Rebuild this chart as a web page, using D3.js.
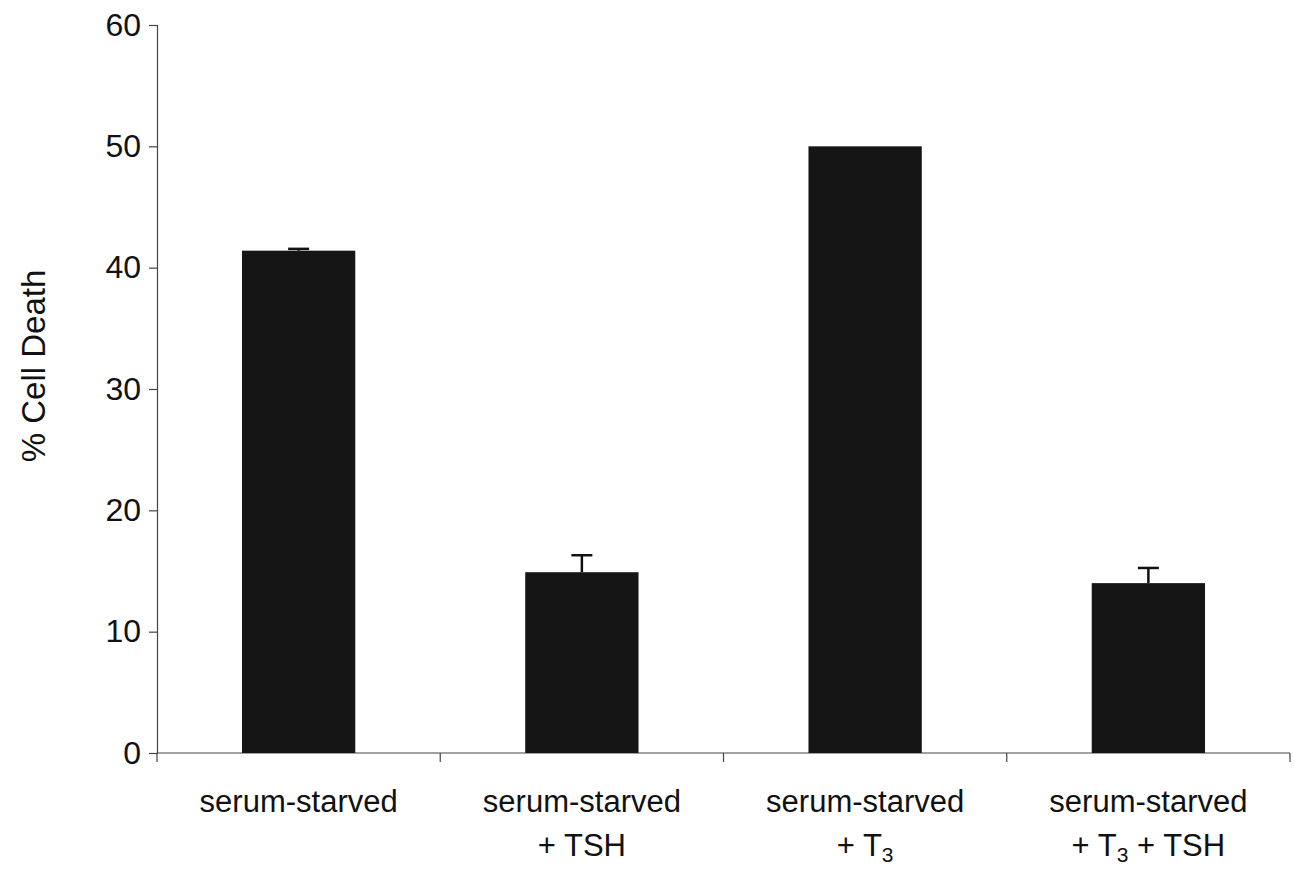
<!DOCTYPE html>
<html>
<head>
<meta charset="utf-8">
<script src="https://cdn.jsdelivr.net/npm/d3@7"></script>
<style>
  body { margin: 0; background: #fff; }
  text { font-family: "Liberation Sans", Arial, sans-serif; fill: #111; }
</style>
</head>
<body>
<div id="chart"></div>
<script>
var width = 1294, height = 869;

// data
var groups = ["g1", "g2", "g3", "g4"];
// label lines: each line is a list of [text, isSubscript]
var line1 = ["serum-starved", "serum-starved", "serum-starved", "serum-starved"];
var line2 = [
  [],
  [["+ TSH", false]],
  [["+ T", false], ["3", true]],
  [["+ T", false], ["3", true], [" + TSH", false]]
];
var means = [41.4, 14.9, 50.0, 14.0];
var errs = [0.15, 1.4, 0, 1.25];
var yTicks = [0, 10, 20, 30, 40, 50, 60];

var svg = d3.select("#chart")
  .append("svg")
  .attr("width", width)
  .attr("height", height);

var x = d3.scaleBand()
  .domain(groups)
  .range([157, 1290])
  .paddingInner(0.6)
  .paddingOuter(0.3);

var y = d3.scaleLinear()
  .domain([0, 60])
  .range([753, 25]);

// y axis
var yAxis = d3.axisLeft(y)
  .tickValues(yTicks)
  .tickSize(8)
  .tickPadding(8)
  .tickFormat(d3.format("d"));

var gy = svg.append("g")
  .attr("transform", "translate(157,0)")
  .call(yAxis);
gy.select(".domain").attr("stroke", "#444").attr("stroke-width", 1.2);
gy.selectAll(".tick line").attr("stroke", "#444").attr("stroke-width", 1.2);
gy.selectAll(".tick text")
  .style("font-size", "32px")
  .attr("fill", "#111");

// x axis line + boundary ticks
var boundaries = [0, 1, 2, 3, 4].map(function(i) {
  return x.range()[0] + i * (x.range()[1] - x.range()[0]) / 4;
});
svg.append("line")
  .attr("x1", 157).attr("x2", 1290)
  .attr("y1", y(0)).attr("y2", y(0))
  .attr("stroke", "#444").attr("stroke-width", 1.2);
svg.selectAll(".xtick")
  .data(boundaries)
  .enter().append("line")
  .attr("class", "xtick")
  .attr("x1", function(d) { return d; })
  .attr("x2", function(d) { return d; })
  .attr("y1", y(0))
  .attr("y2", y(0) + 9)
  .attr("stroke", "#444").attr("stroke-width", 1.2);

// bars
svg.selectAll(".bar")
  .data(groups)
  .enter().append("rect")
  .attr("class", "bar")
  .attr("x", function(d) { return x(d); })
  .attr("width", x.bandwidth())
  .attr("y", function(d, i) { return y(means[i]); })
  .attr("height", function(d, i) { return y(0) - y(means[i]); })
  .attr("fill", "#151515");

// error bars (upper only)
var capW = 21;
var eb = svg.selectAll(".err")
  .data(groups.filter(function(d, i) { return errs[i] > 0; }))
  .enter().append("g")
  .attr("class", "err");
eb.append("line")
  .attr("x1", function(d) { return x(d) + x.bandwidth() / 2; })
  .attr("x2", function(d) { return x(d) + x.bandwidth() / 2; })
  .attr("y1", function(d) { var i = groups.indexOf(d); return y(means[i]); })
  .attr("y2", function(d) { var i = groups.indexOf(d); return y(means[i] + errs[i]); })
  .attr("stroke", "#111").attr("stroke-width", 2.5);
eb.append("line")
  .attr("x1", function(d) { return x(d) + x.bandwidth() / 2 - capW / 2; })
  .attr("x2", function(d) { return x(d) + x.bandwidth() / 2 + capW / 2; })
  .attr("y1", function(d) { var i = groups.indexOf(d); return y(means[i] + errs[i]); })
  .attr("y2", function(d) { var i = groups.indexOf(d); return y(means[i] + errs[i]); })
  .attr("stroke", "#111").attr("stroke-width", 2.5);

// category labels
var labels = svg.selectAll(".cat")
  .data(groups)
  .enter().append("g")
  .attr("class", "cat")
  .attr("transform", function(d) { return "translate(" + (x(d) + x.bandwidth() / 2) + ",0)"; });

labels.append("text")
  .attr("text-anchor", "middle")
  .attr("y", 812)
  .style("font-size", "31px")
  .text(function(d, i) { return line1[i]; });

labels.append("text")
  .attr("text-anchor", "middle")
  .attr("y", 856)
  .style("font-size", "31px")
  .each(function(d, i) {
    var t = d3.select(this);
    var sub = false;
    line2[i].forEach(function(part) {
      var ts = t.append("tspan").text(part[0]);
      if (part[1]) {
        ts.attr("dy", 6).style("font-size", "21px");
        sub = true;
      } else if (sub) {
        ts.attr("dy", -6);
        sub = false;
      }
    });
  });

// y axis title
svg.append("text")
  .attr("text-anchor", "middle")
  .attr("transform", "translate(45,366) rotate(-90)")
  .style("font-size", "33px")
  .text("% Cell Death");
</script>
</body>
</html>
